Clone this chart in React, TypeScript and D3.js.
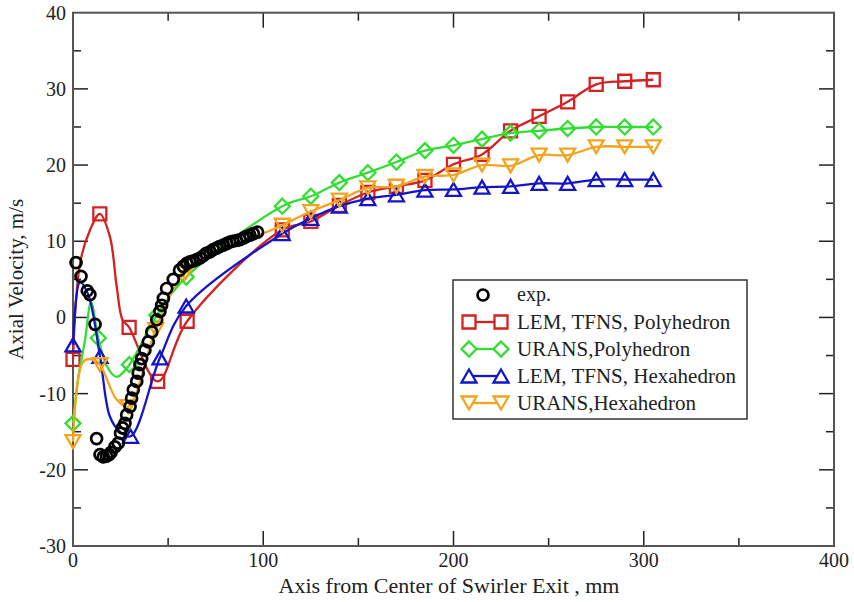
import React from "react";
import * as d3 from "d3";

// ---------- data ----------
const xTicks = [0, 100, 200, 300, 400];
const yTicks = [-30, -20, -10, 0, 10, 20, 30, 40];

// experiment
const expX = [1.6, 4.2, 7.5, 8.9, 11.6, 12.4, 14.2, 15.9, 17.6, 19, 20, 22, 23.8, 25, 26, 27.3, 28.2, 30, 30.8, 31.7, 33.5, 34.3, 35.2, 36.1, 37.8, 39.6, 41.4, 44, 45.7, 46.6, 47.5, 49.2, 52.7, 56, 58, 59.8, 61.5, 63, 65, 66.8, 68.5, 70, 72, 73.7, 75.5, 77, 79, 80.8, 82.5, 84, 86, 87.8, 89.5, 91, 93, 94.8, 97];
const expY = [7.2, 5.4, 3.5, 3.0, -0.9, -15.9, -18.0, -18.3, -18.2, -18, -17.7, -17.0, -16.5, -15.2, -14.5, -13.9, -12.8, -11.7, -10.6, -9.5, -8.4, -7.3, -6.2, -5.4, -4.3, -3.2, -1.9, -0.3, 0.8, 1.6, 2.5, 3.8, 5.0, 6.2, 6.7, 7.1, 7.3, 7.4, 7.6, 7.8, 8.1, 8.4, 8.6, 8.9, 9.1, 9.3, 9.5, 9.7, 9.9, 10.0, 10.1, 10.2, 10.4, 10.6, 10.8, 11.0, 11.2];

// LEM, TFNS, Polyhedron
const redX = [0, 3.7, 9, 14.1, 19.4, 23, 26, 29.5, 44.5, 60, 110, 125, 140, 155, 170, 185, 200, 215, 230, 245, 260, 275, 290, 305];
const redY = [-5.5, 7.1, 11.5, 13.6, 10.6, 4, -0.3, -1.3, -8.4, -0.5, 11.5, 12.6, 14.7, 16.4, 17.2, 18.0, 20.1, 21.4, 24.5, 26.4, 28.3, 30.6, 31.0, 31.2];
const redM = [1, 0, 0, 1, 0, 0, 0, 1, 1, 1, 1, 1, 1, 1, 1, 1, 1, 1, 1, 1, 1, 1, 1, 1];

// URANS, Polyhedron
const greenX = [0, 2.8, 6.3, 9.5, 13.3, 18, 23, 29.6, 44, 59.5, 110, 125, 140, 155, 170, 185, 200, 215, 230, 245, 260, 275, 290, 305];
const greenY = [-13.9, -7.8, -3, 2.0, -2.7, -6.5, -7.8, -6.2, 0.3, 5.3, 14.6, 15.9, 17.7, 19.0, 20.4, 21.9, 22.6, 23.4, 24.2, 24.5, 24.8, 25.0, 25.0, 25.0];
const greenM = [1, 0, 0, 0, 1, 0, 0, 1, 1, 1, 1, 1, 1, 1, 1, 1, 1, 1, 1, 1, 1, 1, 1, 1];

// LEM, TFNS, Hexahedron
const blueX = [0, 3.7, 8, 14.2, 19.4, 24.7, 30.3, 45.7, 59.5, 110, 125, 140, 155, 170, 185, 200, 215, 230, 245, 260, 275, 290, 305];
const blueY = [-3.6, 4.6, 3.0, -5.1, -13, -15, -15.6, -5.3, 1.5, 11.0, 13.0, 14.6, 15.6, 16.1, 16.7, 16.8, 17.1, 17.2, 17.6, 17.6, 18.1, 18.1, 18.1];
const blueM = [1, 0, 0, 1, 0, 0, 1, 1, 1, 1, 1, 1, 1, 1, 1, 1, 1, 1, 1, 1, 1, 1, 1];

// URANS, Hexahedron
const orangeX = [0, 5.4, 10.5, 14.2, 23, 29, 43.5, 59, 110, 125, 140, 155, 170, 185, 200, 215, 230, 245, 260, 275, 290, 305];
const orangeY = [-16.3, -5.8, -5.5, -6.2, -10.8, -11.7, -1.6, 5.8, 12.1, 13.9, 15.4, 17.0, 17.2, 18.5, 18.7, 20.0, 19.9, 21.3, 21.3, 22.4, 22.4, 22.4];
const orangeM = [1, 0, 0, 1, 0, 1, 1, 1, 1, 1, 1, 1, 1, 1, 1, 1, 1, 1, 1, 1, 1, 1];

const seriesNames = ["exp.", "LEM, TFNS, Polyhedron", "URANS,Polyhedron", "LEM, TFNS, Hexahedron", "URANS,Hexahedron"];

// ---------- layout ----------
const W = 854, H = 602;
const L = 73, R = 834, T = 12.7, B = 546;
const FONT = "'Liberation Serif', 'DejaVu Serif', serif";

const xS = d3.scaleLinear().domain([0, 400]).range([L, R]);
const yS = d3.scaleLinear().domain([-30, 40]).range([B, T]);

type Shape = "square" | "diamond" | "up" | "down";

function markerPath(shape: Shape, cx: number, cy: number): string {
  if (shape === "square") {
    const s = 6.5;
    return `M${cx - s},${cy - s}H${cx + s}V${cy + s}H${cx - s}Z`;
  }
  if (shape === "diamond") {
    const s = 7.5;
    return `M${cx},${cy - s}L${cx + s},${cy}L${cx},${cy + s}L${cx - s},${cy}Z`;
  }
  if (shape === "up") {
    const w = 7.5, h = 6.5;
    return `M${cx},${cy - h}L${cx + w},${cy + h}L${cx - w},${cy + h}Z`;
  }
  const w = 7.5, h = 6.5;
  return `M${cx - w},${cy - h}L${cx + w},${cy - h}L${cx},${cy + h}Z`;
}

const sims = [
  { xs: redX, ys: redY, ms: redM, color: "#d42222", shape: "square" as Shape, name: seriesNames[1] },
  { xs: greenX, ys: greenY, ms: greenM, color: "#33dd33", shape: "diamond" as Shape, name: seriesNames[2] },
  { xs: blueX, ys: blueY, ms: blueM, color: "#1515c8", shape: "up" as Shape, name: seriesNames[3] },
  { xs: orangeX, ys: orangeY, ms: orangeM, color: "#f2a41e", shape: "down" as Shape, name: seriesNames[4] },
];

const lineGen = d3
  .line<[number, number]>()
  .x((d) => xS(d[0]))
  .y((d) => yS(d[1]))
  .curve(d3.curveCatmullRom.alpha(0.5));

export default function App() {
  const xMinor = d3.range(50, 400, 100);
  const yMinor = d3.range(-25, 40, 10);
  const majLen = 15, minLen = 8;
  const frame = "#555";
  const sw = 2.3;

  // legend
  const lgX = 453, lgY = 280, lgW = 294, lgH = 139;
  const rowY = [295, 322, 349, 376, 403];

  return (
    <svg width={W} height={H} style={{ position: "absolute", left: 0, top: 0, background: "#fff" }} fontFamily={FONT}>
      <rect x={0} y={0} width={W} height={H} fill="#fff" />
      {/* ticks */}
      <g stroke="#222" strokeWidth={1.5}>
        {xTicks.slice(1, -1).map((t) => (
          <g key={"xt" + t}>
            <line x1={xS(t)} x2={xS(t)} y1={B} y2={B - majLen} />
            <line x1={xS(t)} x2={xS(t)} y1={T} y2={T + majLen} />
          </g>
        ))}
        {xMinor.map((t) => (
          <g key={"xm" + t}>
            <line x1={xS(t)} x2={xS(t)} y1={B} y2={B - minLen} />
            <line x1={xS(t)} x2={xS(t)} y1={T} y2={T + minLen} />
          </g>
        ))}
        {yTicks.slice(1, -1).map((t) => (
          <g key={"yt" + t}>
            <line x1={L} x2={L + majLen} y1={yS(t)} y2={yS(t)} />
            <line x1={R} x2={R - majLen} y1={yS(t)} y2={yS(t)} />
          </g>
        ))}
        {yMinor.map((t) => (
          <g key={"ym" + t}>
            <line x1={L} x2={L + minLen} y1={yS(t)} y2={yS(t)} />
            <line x1={R} x2={R - minLen} y1={yS(t)} y2={yS(t)} />
          </g>
        ))}
      </g>
      <rect x={L} y={T} width={R - L} height={B - T} fill="none" stroke={frame} strokeWidth={2} />

      {/* tick labels */}
      <g fontSize={20} fill="#222">
        {xTicks.map((t) => (
          <text key={"xl" + t} x={xS(t)} y={567} textAnchor="middle">
            {t}
          </text>
        ))}
        {yTicks.map((t) => (
          <text key={"yl" + t} x={66} y={yS(t) + 7} textAnchor="end">
            {t}
          </text>
        ))}
      </g>

      {/* axis titles */}
      <text x={449} y={593} fontSize={22} textAnchor="middle" fill="#222">
        Axis from Center of Swirler Exit , mm
      </text>
      <text transform={`translate(23,${(T + B) / 2}) rotate(-90)`} fontSize={21} textAnchor="middle" fill="#222">
        Axial Velocity, m/s
      </text>

      {/* simulation lines */}
      {sims.map((s, i) => {
        const pts: [number, number][] = s.xs.map((x, j) => [x, s.ys[j]]);
        return (
          <g key={"s" + i}>
            <path d={lineGen(pts) || ""} fill="none" stroke={s.color} strokeWidth={sw} />
            {pts
              .filter((_, j) => s.ms[j] === 1)
              .map((p, j) => (
                <path key={j} d={markerPath(s.shape, xS(p[0]), yS(p[1]))} fill="none" stroke={s.color} strokeWidth={sw} />
              ))}
          </g>
        );
      })}

      {/* experiment */}
      <g>
        {expX.map((x, i) => (
          <circle key={"e" + i} cx={xS(x)} cy={yS(expY[i])} r={5.5} fill="none" stroke="#000" strokeWidth={2.7} />
        ))}
      </g>

      {/* legend */}
      <rect x={lgX} y={lgY} width={lgW} height={lgH} fill="#fff" stroke="#333" strokeWidth={1.5} />
      <circle cx={483} cy={rowY[0]} r={5.5} fill="none" stroke="#000" strokeWidth={2.7} />
      <text x={517} y={rowY[0] + 6} fontSize={20} fill="#222">
        {seriesNames[0]}
      </text>
      {sims.map((s, i) => (
        <g key={"lg" + i}>
          <line x1={469} x2={501} y1={rowY[i + 1]} y2={rowY[i + 1]} stroke={s.color} strokeWidth={sw} />
          <path d={markerPath(s.shape, 469, rowY[i + 1])} fill="#fff" stroke={s.color} strokeWidth={sw} />
          <path d={markerPath(s.shape, 501, rowY[i + 1])} fill="#fff" stroke={s.color} strokeWidth={sw} />
          <text x={517} y={rowY[i + 1] + 7} fontSize={21} fill="#222">
            {s.name}
          </text>
        </g>
      ))}
    </svg>
  );
}
